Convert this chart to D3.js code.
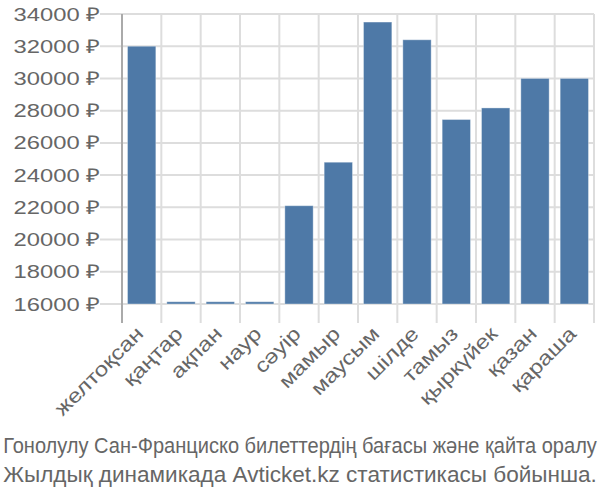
<!DOCTYPE html>
<html><head><meta charset="utf-8">
<script src="https://cdn.jsdelivr.net/npm/d3@7"></script>
<style>body{margin:0;background:#fff}svg{display:block}</style>
</head><body>
<script>
const months = ["желтоқсан","қаңтар","ақпан","наур","сәуір","мамыр","маусым","шілде","тамыз","қыркүйек","қазан","қараша"];
const prices = [32000,16140,16140,16140,22100,24800,33500,32400,27450,28170,30000,30000];
const yTicks = [16000,18000,20000,22000,24000,26000,28000,30000,32000,34000];
const titleLines = ["Гонолулу Сан-Франциско билеттердің бағасы және қайта оралу","Жылдық динамикада Avticket.kz статистикасы бойынша."];

const W=600,H=500, L=122, R=594, T=14, B=304;
const svg=d3.select("body").append("svg").attr("width",W).attr("height",H);
const x=d3.scaleBand().domain(months).range([L,R]).paddingInner(0.28).paddingOuter(0.14);
const y=d3.scaleLinear().domain([16000,34000]).range([B,T]);
const step=x.step(), half=step*x.paddingInner()/2;
const font='"Liberation Sans", Arial, sans-serif';
const grey="#666";

// horizontal grid
svg.append("g").selectAll("line").data(yTicks).join("line")
 .attr("x1",100).attr("x2",R).attr("y1",d=>y(d)).attr("y2",d=>y(d))
 .attr("stroke","#ddd").attr("stroke-width",2);
// vertical grid
const bounds=months.map(m=>x(m)-half).concat([R]);
svg.append("g").selectAll("line").data(bounds).join("line")
 .attr("x1",d=>d).attr("x2",d=>d).attr("y1",T).attr("y2",323)
 .attr("stroke",(d,i)=>i===0?"#aaa":"#ddd").attr("stroke-width",2);

// bars
svg.append("g").selectAll("rect").data(months).join("rect")
 .attr("x",d=>x(d)).attr("width",x.bandwidth())
 .attr("y",(d,i)=>y(prices[i])).attr("height",(d,i)=>B-y(prices[i]))
 .attr("fill","#4e79a7").attr("stroke","rgba(255,255,255,0.35)").attr("stroke-width",1);

// y axis
const ya=svg.append("g").attr("transform",`translate(${L},0)`)
 .call(d3.axisLeft(y).tickValues(yTicks).tickSize(0).tickPadding(22).tickFormat(d=>d+" ₽"));
ya.select(".domain").remove();
ya.selectAll("text").attr("font-family",font).attr("font-size",19).attr("fill",grey)
 .each(function(){const l=this.getComputedTextLength(); this.setAttribute("textLength",l*1.25); this.setAttribute("lengthAdjust","spacingAndGlyphs");});

// x axis
const xa=svg.append("g").attr("transform",`translate(0,${B})`)
 .call(d3.axisBottom(x).tickSize(0).tickPadding(0));
xa.select(".domain").remove();
xa.selectAll("text").attr("font-family",font).attr("font-size",20).attr("fill",grey)
 .attr("text-anchor","end").attr("dy",null).attr("y",null)
 .attr("transform","translate(3,31) rotate(-45)")
 .each(function(){const l=this.getComputedTextLength(); this.setAttribute("textLength",l*1.2); this.setAttribute("lengthAdjust","spacingAndGlyphs");});

// title
svg.append("g").selectAll("text").data(titleLines).join("text")
 .attr("text-anchor","middle")
 .attr("font-family",font).attr("font-size",20).attr("fill",grey).text(d=>d)
 .each(function(d,i){const l=this.getComputedTextLength(); const sx=594/l;
   this.setAttribute("transform",`translate(300,${453+i*28.5}) scale(${sx},1.1)`);});
</script>
</body></html>
